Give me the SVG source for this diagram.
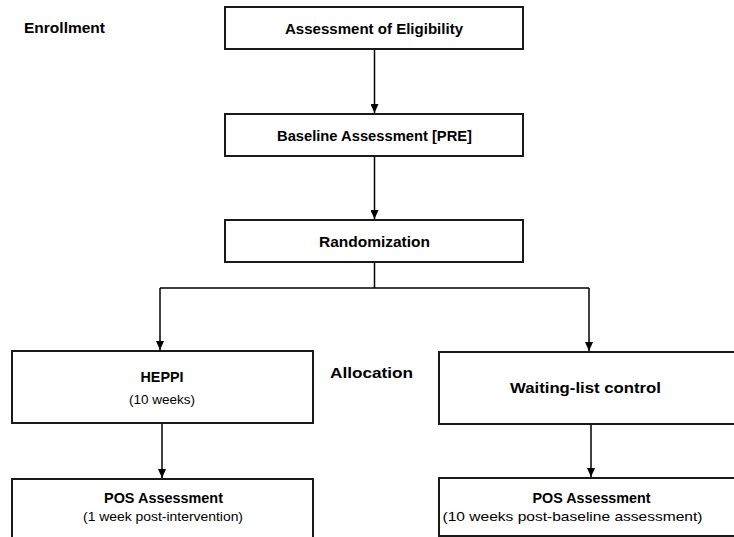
<svg xmlns="http://www.w3.org/2000/svg" width="734" height="537" viewBox="0 0 734 537">
<style>
.box{fill:#fff;stroke:#1a1a1a;stroke-width:2}
.t{font-family:"Liberation Sans",Arial,sans-serif;font-weight:bold;font-size:15px;fill:#000;text-anchor:middle}
.s{font-family:"Liberation Sans",Arial,sans-serif;font-size:13px;fill:#000;text-anchor:middle}
.c{fill:none;stroke:#000;stroke-width:1.5}
</style>
<defs>
<marker id="ah" markerWidth="9" markerHeight="8" refX="9" refY="4" orient="auto" markerUnits="userSpaceOnUse">
<path d="M0,0 L9,4 L0,8 Z" fill="#000"/>
</marker>
</defs>
<rect width="734" height="537" fill="#fff"/>
<text class="t" x="24" y="33" style="text-anchor:start" textLength="81" lengthAdjust="spacingAndGlyphs">Enrollment</text>
<text class="t" x="330" y="378" style="text-anchor:start" textLength="83" lengthAdjust="spacingAndGlyphs">Allocation</text>
<g id="connectors">
<path class="c" d="M374.5,49 V113" marker-end="url(#ah)"/>
<path class="c" d="M374.5,156 V219" marker-end="url(#ah)"/>
<path class="c" d="M374.5,262 V288"/>
<path class="c" d="M160,288 H589"/>
<path class="c" d="M160,288 V350" marker-end="url(#ah)"/>
<path class="c" d="M589,288 V351" marker-end="url(#ah)"/>
<path class="c" d="M162,423 V478" marker-end="url(#ah)"/>
<path class="c" d="M591,424 V477" marker-end="url(#ah)"/>
</g>
<g id="eligibility">
<rect class="box" x="225" y="7" width="298" height="42"/>
<text class="t" x="374" y="34" textLength="178" lengthAdjust="spacingAndGlyphs">Assessment of Eligibility</text>
</g>
<g id="baseline">
<rect class="box" x="225" y="114" width="298" height="42"/>
<text class="t" x="374.5" y="141" textLength="195" lengthAdjust="spacingAndGlyphs">Baseline Assessment [PRE]</text>
</g>
<g id="randomization">
<rect class="box" x="225" y="220" width="298" height="42"/>
<text class="t" x="374.5" y="247" textLength="111" lengthAdjust="spacingAndGlyphs">Randomization</text>
</g>
<g id="heppi">
<rect class="box" x="12" y="351" width="301" height="72"/>
<text class="t" x="162" y="382" textLength="43" lengthAdjust="spacingAndGlyphs">HEPPI</text>
<text class="s" x="162" y="404" textLength="66" lengthAdjust="spacingAndGlyphs">(10 weeks)</text>
</g>
<g id="waiting">
<rect class="box" x="439" y="352" width="301" height="72"/>
<text class="t" x="585.5" y="393" textLength="151" lengthAdjust="spacingAndGlyphs">Waiting-list control</text>
</g>
<g id="pos-left">
<rect class="box" x="12" y="479" width="301" height="70"/>
<text class="t" x="163.5" y="503" textLength="119" lengthAdjust="spacingAndGlyphs">POS Assessment</text>
<text class="s" x="163" y="521" textLength="160" lengthAdjust="spacingAndGlyphs">(1 week post-intervention)</text>
</g>
<g id="pos-right">
<rect class="box" x="439" y="478" width="301" height="58"/>
<text class="t" x="591.5" y="503" textLength="118" lengthAdjust="spacingAndGlyphs">POS Assessment</text>
<text class="s" x="572.5" y="521" textLength="260" lengthAdjust="spacingAndGlyphs">(10 weeks post-baseline assessment)</text>
</g>
</svg>
